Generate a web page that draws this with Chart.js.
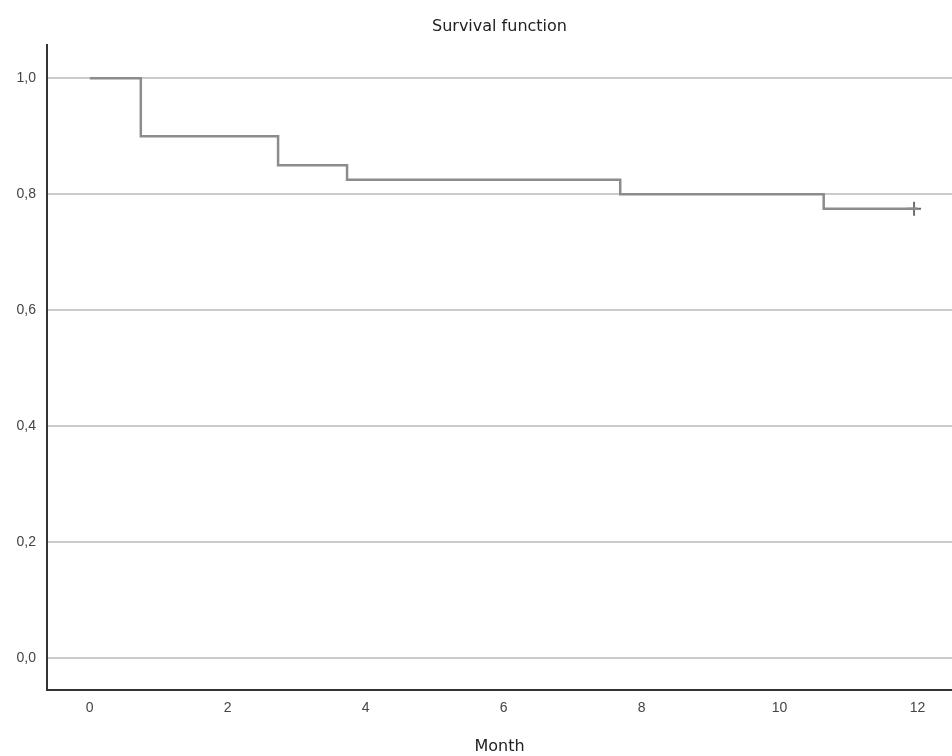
<!DOCTYPE html>
<html>
<head>
<meta charset="utf-8">
<script src="https://cdn.jsdelivr.net/npm/chart.js@4/dist/chart.umd.min.js"></script>
<style>
  html, body { margin: 0; padding: 0; background: #fff; overflow: hidden; }
  #wrap { width: 952px; height: 756px; }
</style>
</head>
<body>
<div id="wrap"><canvas id="chart"></canvas></div>
<script>
// Kaplan-Meier steps
var months = [0, 0.74, 2.73, 3.73, 7.69, 10.64, 12];
var survival = [1.0, 0.9, 0.85, 0.825, 0.8, 0.775, 0.775];
// censored case at the end
var censorMonths = [11.95];
var censorSurvival = [0.775];
var xTicks = [0, 2, 4, 6, 8, 10, 12];
var yTicks = [0, 0.2, 0.4, 0.6, 0.8, 1.0];

var stepPoints = months.map(function (m, i) { return { x: m, y: survival[i] }; });
var censorPoints = censorMonths.map(function (m, i) { return { x: m, y: censorSurvival[i] }; });

var tickFont = { family: "'Liberation Sans', Arial, sans-serif", size: 14 };
var titleFont = { family: "'DejaVu Sans', sans-serif", size: 16, weight: "normal" };

new Chart(document.getElementById("chart").getContext("2d"), {
    type: "line",
    data: {
        datasets: [
            {
                data: stepPoints,
                stepped: "before",
                borderColor: "#8c8c8c",
                borderWidth: 2.5,
                pointRadius: 0,
                fill: false
            },
            {
                data: censorPoints,
                showLine: false,
                pointStyle: "cross",
                pointRadius: 7,
                pointBorderWidth: 2,
                pointBorderColor: "#6e6e6e"
            }
        ]
    },
    options: {
        responsive: true,
        maintainAspectRatio: false,
        animation: false,
        layout: { padding: 0, autoPadding: false },
        plugins: {
            legend: { display: false },
            tooltip: { enabled: false },
            title: {
                display: true,
                fullSize: false, // centre over the plot area, not the canvas
                text: "Survival function",
                color: "#222",
                font: titleFont,
                padding: { top: 17, bottom: 9 }
            }
        },
        scales: {
            x: {
                type: "linear",
                min: -0.62,
                max: 12.5,
                afterBuildTicks: function (scale) {
                    scale.ticks = xTicks.map(function (v) { return { value: v }; });
                },
                afterFit: function (scale) { scale.height = 66; },
                grid: { display: false, drawTicks: false },
                border: { display: true, color: "#333", width: 2 },
                ticks: { color: "#444", font: tickFont, padding: 10, maxRotation: 0 },
                title: {
                    display: true,
                    text: "Month",
                    color: "#222",
                    font: titleFont,
                    padding: { top: 0, bottom: 0 }
                }
            },
            y: {
                min: -0.055,
                max: 1.057,
                afterBuildTicks: function (scale) {
                    scale.ticks = yTicks.map(function (v) { return { value: v }; });
                },
                afterFit: function (scale) { scale.width = 47; },
                grid: { color: "#cbcbcb", lineWidth: 2, drawTicks: false },
                border: { display: true, color: "#333", width: 2 },
                ticks: {
                    color: "#444",
                    font: tickFont,
                    padding: 11,
                    callback: function (v) { return v.toFixed(1).replace(".", ","); }
                }
            }
        }
    }
});
</script>
</body>
</html>
